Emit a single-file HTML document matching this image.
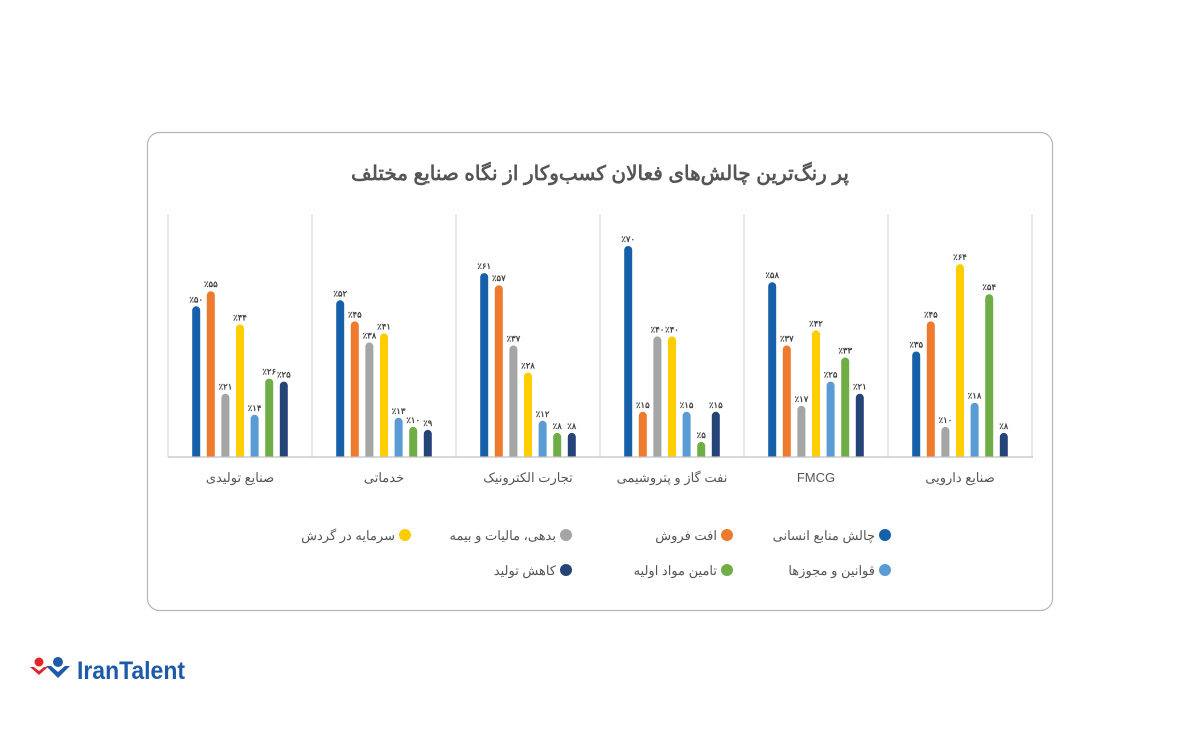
<!DOCTYPE html>
<html><head><meta charset="utf-8">
<style>
html,body{margin:0;padding:0;background:#fff;width:1200px;height:745px;overflow:hidden}
svg{display:block;font-family:"Liberation Sans","Noto Sans CJK SC",sans-serif}
</style></head><body>
<svg width="1200" height="745" viewBox="0 0 1200 745">
<defs><clipPath id="c"><rect x="0" y="0" width="1200" height="457"/></clipPath></defs>
<rect x="147.5" y="132.5" width="905" height="478" rx="12" fill="#fff" stroke="#b5b5b5" stroke-width="1.2"/>
<text x="600" y="180" text-anchor="middle" font-size="20" font-weight="bold" fill="#555" direction="rtl">پر رنگ‌ترین چالش‌های فعالان کسب‌وکار از نگاه صنایع مختلف</text>
<g stroke="#d0d0d0" stroke-width="1">
<line x1="168" y1="214" x2="168" y2="457"/><line x1="312" y1="214" x2="312" y2="457"/><line x1="456" y1="214" x2="456" y2="457"/><line x1="600" y1="214" x2="600" y2="457"/><line x1="744" y1="214" x2="744" y2="457"/><line x1="888" y1="214" x2="888" y2="457"/><line x1="1032" y1="214" x2="1032" y2="457"/>
</g>
<g clip-path="url(#c)">
<g transform="translate(240,0)">
<rect x="-47.8" y="306.3" width="8" height="160" rx="4" fill="#1560a8"/>
<rect x="-33.2" y="291.2" width="8" height="170" rx="4" fill="#ee7a30"/>
<rect x="-18.6" y="393.7" width="8" height="70" rx="4" fill="#a5a5a5"/>
<rect x="-4" y="324.4" width="8" height="140" rx="4" fill="#ffcc00"/>
<rect x="10.6" y="414.8" width="8" height="50" rx="4" fill="#5b9bd5"/>
<rect x="25.2" y="378.6" width="8" height="90" rx="4" fill="#70ad47"/>
<rect x="39.8" y="381.6" width="8" height="90" rx="4" fill="#264478"/>
</g>
<g transform="translate(384,0)">
<rect x="-47.8" y="300.3" width="8" height="170" rx="4" fill="#1560a8"/>
<rect x="-33.2" y="321.4" width="8" height="140" rx="4" fill="#ee7a30"/>
<rect x="-18.6" y="342.5" width="8" height="120" rx="4" fill="#a5a5a5"/>
<rect x="-4" y="333.4" width="8" height="130" rx="4" fill="#ffcc00"/>
<rect x="10.6" y="417.8" width="8" height="50" rx="4" fill="#5b9bd5"/>
<rect x="25.2" y="426.9" width="8" height="40" rx="4" fill="#70ad47"/>
<rect x="39.8" y="429.9" width="8" height="40" rx="4" fill="#264478"/>
</g>
<g transform="translate(528,0)">
<rect x="-47.8" y="273.1" width="8" height="190" rx="4" fill="#1560a8"/>
<rect x="-33.2" y="285.2" width="8" height="180" rx="4" fill="#ee7a30"/>
<rect x="-18.6" y="345.5" width="8" height="120" rx="4" fill="#a5a5a5"/>
<rect x="-4" y="372.6" width="8" height="90" rx="4" fill="#ffcc00"/>
<rect x="10.6" y="420.8" width="8" height="50" rx="4" fill="#5b9bd5"/>
<rect x="25.2" y="432.9" width="8" height="30" rx="4" fill="#70ad47"/>
<rect x="39.8" y="432.9" width="8" height="30" rx="4" fill="#264478"/>
</g>
<g transform="translate(672,0)">
<rect x="-47.8" y="246" width="8" height="220" rx="4" fill="#1560a8"/>
<rect x="-33.2" y="411.8" width="8" height="50" rx="4" fill="#ee7a30"/>
<rect x="-18.6" y="336.4" width="8" height="130" rx="4" fill="#a5a5a5"/>
<rect x="-4" y="336.4" width="8" height="130" rx="4" fill="#ffcc00"/>
<rect x="10.6" y="411.8" width="8" height="50" rx="4" fill="#5b9bd5"/>
<rect x="25.2" y="441.9" width="8" height="30" rx="4" fill="#70ad47"/>
<rect x="39.8" y="411.8" width="8" height="50" rx="4" fill="#264478"/>
</g>
<g transform="translate(816,0)">
<rect x="-47.8" y="282.2" width="8" height="180" rx="4" fill="#1560a8"/>
<rect x="-33.2" y="345.5" width="8" height="120" rx="4" fill="#ee7a30"/>
<rect x="-18.6" y="405.8" width="8" height="60" rx="4" fill="#a5a5a5"/>
<rect x="-4" y="330.4" width="8" height="130" rx="4" fill="#ffcc00"/>
<rect x="10.6" y="381.6" width="8" height="80" rx="4" fill="#5b9bd5"/>
<rect x="25.2" y="357.5" width="8" height="110" rx="4" fill="#70ad47"/>
<rect x="39.8" y="393.7" width="8" height="70" rx="4" fill="#264478"/>
</g>
<g transform="translate(960,0)">
<rect x="-47.8" y="351.5" width="8" height="110" rx="4" fill="#1560a8"/>
<rect x="-33.2" y="321.4" width="8" height="140" rx="4" fill="#ee7a30"/>
<rect x="-18.6" y="426.9" width="8" height="40" rx="4" fill="#a5a5a5"/>
<rect x="-4" y="264.1" width="8" height="200" rx="4" fill="#ffcc00"/>
<rect x="10.6" y="402.7" width="8" height="60" rx="4" fill="#5b9bd5"/>
<rect x="25.2" y="294.2" width="8" height="170" rx="4" fill="#70ad47"/>
<rect x="39.8" y="432.9" width="8" height="30" rx="4" fill="#264478"/>
</g>
</g>
<g font-size="8.5" font-weight="bold" fill="#444" text-anchor="middle">
<g transform="translate(240,-4)"><text x="-43.8" y="306.3">٪۵۰</text><text x="-29.2" y="291.2">٪۵۵</text><text x="-14.6" y="393.7">٪۲۱</text><text x="0" y="324.4">٪۴۴</text><text x="14.6" y="414.8">٪۱۴</text><text x="29.2" y="378.6">٪۲۶</text><text x="43.8" y="381.6">٪۲۵</text></g>
<g transform="translate(384,-4)"><text x="-43.8" y="300.3">٪۵۲</text><text x="-29.2" y="321.4">٪۴۵</text><text x="-14.6" y="342.5">٪۳۸</text><text x="0" y="333.4">٪۴۱</text><text x="14.6" y="417.8">٪۱۳</text><text x="29.2" y="426.9">٪۱۰</text><text x="43.8" y="429.9">٪۹</text></g>
<g transform="translate(528,-4)"><text x="-43.8" y="273.1">٪۶۱</text><text x="-29.2" y="285.2">٪۵۷</text><text x="-14.6" y="345.5">٪۳۷</text><text x="0" y="372.6">٪۲۸</text><text x="14.6" y="420.8">٪۱۲</text><text x="29.2" y="432.9">٪۸</text><text x="43.8" y="432.9">٪۸</text></g>
<g transform="translate(672,-4)"><text x="-43.8" y="246">٪۷۰</text><text x="-29.2" y="411.8">٪۱۵</text><text x="-14.6" y="336.4">٪۴۰</text><text x="0" y="336.4">٪۴۰</text><text x="14.6" y="411.8">٪۱۵</text><text x="29.2" y="441.9">٪۵</text><text x="43.8" y="411.8">٪۱۵</text></g>
<g transform="translate(816,-4)"><text x="-43.8" y="282.2">٪۵۸</text><text x="-29.2" y="345.5">٪۳۷</text><text x="-14.6" y="405.8">٪۱۷</text><text x="0" y="330.4">٪۴۲</text><text x="14.6" y="381.6">٪۲۵</text><text x="29.2" y="357.5">٪۳۳</text><text x="43.8" y="393.7">٪۲۱</text></g>
<g transform="translate(960,-4)"><text x="-43.8" y="351.5">٪۳۵</text><text x="-29.2" y="321.4">٪۴۵</text><text x="-14.6" y="426.9">٪۱۰</text><text x="0" y="264.1">٪۶۴</text><text x="14.6" y="402.7">٪۱۸</text><text x="29.2" y="294.2">٪۵۴</text><text x="43.8" y="432.9">٪۸</text></g>
</g>
<line x1="168" y1="457" x2="1033" y2="457" stroke="#c0c0c0" stroke-width="1.2"/>
<g font-size="13" fill="#555" text-anchor="middle" direction="rtl">
<text x="240" y="482">صنایع تولیدی</text><text x="384" y="482">خدماتی</text><text x="528" y="482">تجارت الکترونیک</text><text x="672" y="482">نفت گاز و پتروشیمی</text><text x="816" y="482">FMCG</text><text x="960" y="482">صنایع دارویی</text>
</g>
<g font-size="13" fill="#555" text-anchor="start" direction="rtl">
<circle cx="885" cy="535" r="6" fill="#1560a8"/><text x="875" y="540">چالش منابع انسانی</text>
<circle cx="727" cy="535" r="6" fill="#ee7a30"/><text x="717" y="540">افت فروش</text>
<circle cx="566" cy="535" r="6" fill="#a5a5a5"/><text x="556" y="540">بدهی، مالیات و بیمه</text>
<circle cx="405" cy="535" r="6" fill="#ffcc00"/><text x="395" y="540">سرمایه در گردش</text>
<circle cx="885" cy="570" r="6" fill="#5b9bd5"/><text x="875" y="575">قوانین و مجوزها</text>
<circle cx="727" cy="570" r="6" fill="#70ad47"/><text x="717" y="575">تامین مواد اولیه</text>
<circle cx="566" cy="570" r="6" fill="#264478"/><text x="556" y="575">کاهش تولید</text>
</g>
<g>
<circle cx="39" cy="662" r="4.5" fill="#e0262b"/>
<path d="M30 667 L39 675 L48 667 L44 667 L39 671 L34 667Z" fill="#e0262b"/>
<circle cx="58" cy="662" r="5" fill="#1d5aa8"/>
<path d="M46 666 L58 678 L70 666 L65 666 L58 672 L51 666Z" fill="#1d5aa8"/>
<text x="77" y="679" font-size="25" font-weight="bold" fill="#1d5aa8" font-family="Liberation Sans, sans-serif" textLength="108" lengthAdjust="spacingAndGlyphs">IranTalent</text>
</g>
</svg>
</body></html>
